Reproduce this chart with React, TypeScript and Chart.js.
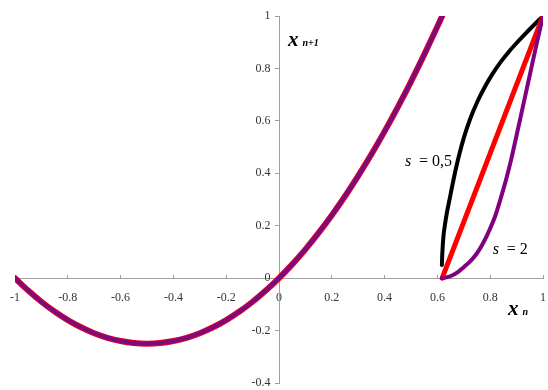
import React, { useEffect, useRef } from "react";
import { Chart, registerables } from "chart.js";

Chart.register(...registerables);

// Parabola branch x_{n+1} = f(x_n)
const parabolaX = [-1, -0.95, -0.9, -0.85, -0.8, -0.75, -0.7, -0.65, -0.6, -0.55, -0.5, -0.45, -0.4, -0.35, -0.3, -0.25, -0.2, -0.15, -0.1, -0.05, 0, 0.05, 0.1, 0.15, 0.2, 0.25, 0.3, 0.35, 0.4, 0.45, 0.5, 0.55, 0.6, 0.618];
const parabolaY = [0, -0.0475, -0.09, -0.1275, -0.16, -0.1875, -0.21, -0.2275, -0.24, -0.2475, -0.25, -0.2475, -0.24, -0.2275, -0.21, -0.1875, -0.16, -0.1275, -0.09, -0.0475, 0, 0.0525, 0.11, 0.1725, 0.24, 0.3125, 0.39, 0.4725, 0.56, 0.6525, 0.75, 0.8525, 0.96, 1];

// s = 1 (straight)
const linearX = [0.618, 1];
const linearY = [0, 1];

// s = 0,5
const halfX = [0.617, 0.618, 0.62, 0.623, 0.628, 0.636, 0.648, 0.662, 0.68, 0.7, 0.725, 0.75, 0.78, 0.81, 0.84, 0.87, 0.9, 0.93, 0.96, 1];
const halfY = [0.05, 0.08, 0.12, 0.16, 0.2, 0.25, 0.31, 0.38, 0.46, 0.535, 0.61, 0.67, 0.73, 0.781, 0.825, 0.863, 0.897, 0.929, 0.96, 1];

// s = 2
const twoX = [0.618, 0.635, 0.655, 0.68, 0.7, 0.725, 0.75, 0.775, 0.8, 0.82, 0.84, 0.86, 0.88, 0.9, 0.925, 0.95, 0.975, 1];
const twoY = [0, 0.003, 0.01, 0.025, 0.042, 0.065, 0.095, 0.137, 0.19, 0.24, 0.305, 0.375, 0.455, 0.545, 0.66, 0.775, 0.89, 1];

const xTicks = [-1, -0.8, -0.6, -0.4, -0.2, 0, 0.2, 0.4, 0.6, 0.8, 1];
const yTicks = [-0.4, -0.2, 0, 0.2, 0.4, 0.6, 0.8, 1];

const pts = (xs: number[], ys: number[]) => xs.map((x, i) => ({ x, y: ys[i] }));

const textPlugin = {
  id: "texts",
  afterDraw(chart: any) {
    const { ctx } = chart;
    const sx = chart.scales.x;
    const sy = chart.scales.y;
    ctx.save();
    ctx.fillStyle = "#000";
    ctx.textBaseline = "alphabetic";
    ctx.textAlign = "left";
    const sub = (main: string, subText: string, vx: number, vy: number) => {
      const px = sx.getPixelForValue(vx);
      const py = sy.getPixelForValue(vy);
      ctx.font = 'bold italic 21px "Liberation Serif"';
      ctx.fillText(main, px, py);
      const w = ctx.measureText(main).width;
      ctx.font = 'bold italic 10px "Liberation Serif"';
      ctx.fillText(subText, px + w + 4, py);
    };
    sub("x", "n+1", 0.034, 0.886);
    sub("x", "n", 0.867, -0.141);

    const ann = (val: string, vx: number, vy: number) => {
      const px = sx.getPixelForValue(vx);
      const py = sy.getPixelForValue(vy);
      ctx.font = 'italic 16px "Liberation Serif"';
      ctx.fillText("s", px, py);
      ctx.font = '16px "Liberation Serif"';
      ctx.fillText("= " + val, px + 14, py);
    };
    ann("0,5", 0.477, 0.426);
    ann("2", 0.81, 0.091);
    ctx.restore();
  },
};

export default function App() {
  const ref = useRef<HTMLCanvasElement>(null);
  useEffect(() => {
    if (!ref.current) return;
    const chart = new Chart(ref.current, {
      type: "scatter",
      data: {
        datasets: [
          { data: pts(parabolaX, parabolaY), showLine: true, borderColor: "#e0002a", borderWidth: 6, pointRadius: 0, order: 5, tension: 0.3 },
          { data: pts(parabolaX, parabolaY), showLine: true, borderColor: "#7d0a7a", borderWidth: 4, pointRadius: 0, order: 4, tension: 0.3 },
          { data: pts(halfX, halfY), showLine: true, borderColor: "#000000", borderWidth: 4, pointRadius: 0, order: 3, cubicInterpolationMode: "monotone" },
          { data: pts(linearX, linearY), showLine: true, borderColor: "#ff0000", borderWidth: 5, pointRadius: 0, order: 2 },
          { data: pts(twoX, twoY), showLine: true, borderColor: "#800080", borderWidth: 4, pointRadius: 0, order: 1, cubicInterpolationMode: "monotone" },
        ] as any,
      },
      options: {
        responsive: false,
        animation: false,
        layout: { padding: { left: 15, right: 5, top: 16, bottom: 7 } },
        plugins: { legend: { display: false }, tooltip: { enabled: false } },
        elements: { line: { borderCapStyle: "round", borderJoinStyle: "round" } },
        scales: {
          x: {
            type: "linear",
            min: -1,
            max: 1,
            position: { y: 0 } as any,
            afterFit: (s: any) => { s.height = 0; s.paddingLeft = 0; s.paddingRight = 0; s.paddingTop = 0; s.paddingBottom = 0; },
            afterBuildTicks: (s: any) => { s.ticks = xTicks.map((v) => ({ value: v })); },
            grid: { drawOnChartArea: false, drawTicks: true, tickLength: -4, color: "#a0a0a0" },
            border: { color: "#a0a0a0", width: 1 },
            ticks: { padding: 17, color: "#333", font: { family: "Liberation Serif", size: 12 }, callback: (v: any) => String(v), maxRotation: 0, autoSkip: false },
          },
          y: {
            type: "linear",
            min: -0.4,
            max: 1,
            position: { x: 0 } as any,
            afterFit: (s: any) => { s.width = 0; s.paddingLeft = 0; s.paddingRight = 0; s.paddingTop = 0; s.paddingBottom = 0; },
            afterBuildTicks: (s: any) => { s.ticks = yTicks.map((v) => ({ value: v })); },
            grid: { drawOnChartArea: false, drawTicks: true, tickLength: 4, color: "#a0a0a0" },
            border: { color: "#a0a0a0", width: 1 },
            ticks: { padding: 4, color: "#333", font: { family: "Liberation Serif", size: 12 }, callback: (v: any) => String(v) + "\u2002\u2009", autoSkip: false },
          },
        },
      },
      plugins: [textPlugin],
    });
    return () => chart.destroy();
  }, []);
  return (
    <div style={{ position: "fixed", left: 0, top: 0, width: 548, height: 390, background: "#fff" }}>
      <canvas ref={ref} width={548} height={390} style={{ display: "block" }} />
    </div>
  );
}
